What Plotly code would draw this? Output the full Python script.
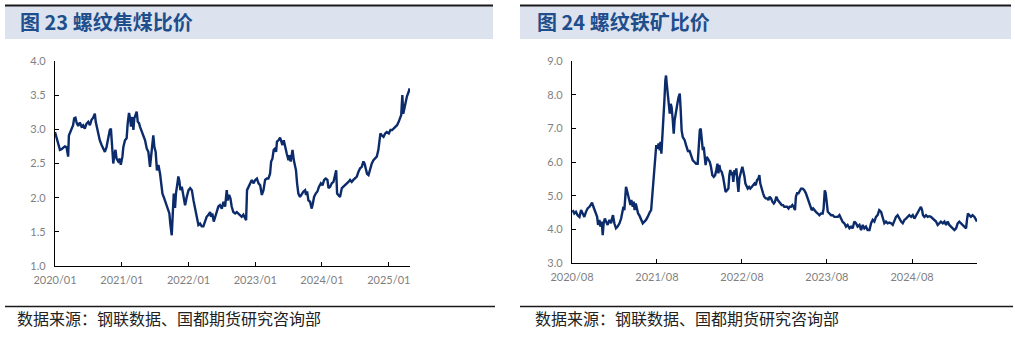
import pandas as pd
import plotly.graph_objects as go

# ---------------- data: left chart (rebar / coking coal price ratio) ----------------
coal_dates = [
    "2020-01-01","2020-01-10","2020-01-19","2020-01-28","2020-02-06","2020-02-15","2020-02-24","2020-03-04","2020-03-13","2020-03-17",
    "2020-03-22","2020-03-31","2020-04-09","2020-04-15","2020-04-22","2020-04-29","2020-05-07","2020-05-16","2020-05-25","2020-06-03",
    "2020-06-12","2020-06-21","2020-07-01","2020-07-10","2020-07-19","2020-07-28","2020-08-06","2020-08-11","2020-08-19","2020-08-24",
    "2020-09-02","2020-09-12","2020-09-21","2020-09-30","2020-10-09","2020-10-18","2020-10-27","2020-11-02","2020-11-05","2020-11-09",
    "2020-11-15","2020-11-20","2020-11-27","2020-12-03","2020-12-12","2020-12-21","2020-12-26",
    "2021-01-04","2021-01-09","2021-01-18","2021-01-27","2021-02-02","2021-02-09","2021-02-15","2021-02-20","2021-02-27","2021-03-05",
    "2021-03-10","2021-03-18","2021-03-23","2021-03-29","2021-04-05","2021-04-10","2021-04-16","2021-04-23","2021-04-29","2021-05-08",
    "2021-05-17","2021-05-26","2021-06-04","2021-06-10","2021-06-17","2021-06-22","2021-06-28","2021-07-05","2021-07-12","2021-07-20",
    "2021-07-29","2021-08-03","2021-08-11","2021-08-18","2021-08-25","2021-08-31","2021-09-09","2021-09-18","2021-09-23","2021-10-01",
    "2021-10-06","2021-10-12","2021-10-19","2021-10-24","2021-11-01","2021-11-06","2021-11-12","2021-11-17","2021-11-25","2021-12-04",
    "2021-12-13","2021-12-22",
    "2022-01-01","2022-01-10","2022-01-19","2022-01-28","2022-02-06","2022-02-15","2022-02-24","2022-03-05","2022-03-14","2022-03-23",
    "2022-04-01","2022-04-10","2022-04-20","2022-04-29","2022-05-04","2022-05-11","2022-05-19","2022-05-26","2022-06-04","2022-06-13",
    "2022-06-22","2022-07-02","2022-07-11","2022-07-20","2022-07-29","2022-08-03","2022-08-11","2022-08-18","2022-08-25","2022-09-03",
    "2022-09-13","2022-09-22","2022-10-01","2022-10-10","2022-10-19","2022-10-28","2022-11-06","2022-11-12","2022-11-17","2022-11-25",
    "2022-12-04","2022-12-13","2022-12-22",
    "2023-01-01","2023-01-10","2023-01-19","2023-01-28","2023-02-06","2023-02-15","2023-02-24","2023-03-05","2023-03-14","2023-03-23",
    "2023-03-29","2023-04-05","2023-04-12","2023-04-20","2023-04-25","2023-04-30","2023-05-08","2023-05-17","2023-05-22","2023-05-30",
    "2023-06-06","2023-06-13","2023-06-22","2023-07-02","2023-07-07","2023-07-14","2023-07-24","2023-07-31","2023-08-07","2023-08-12",
    "2023-08-18","2023-08-25","2023-09-03","2023-09-13","2023-09-22","2023-10-01","2023-10-06","2023-10-12","2023-10-19","2023-10-28",
    "2023-11-06","2023-11-12","2023-11-19","2023-11-28","2023-12-07","2023-12-16","2023-12-26",
    "2024-01-04","2024-01-13","2024-01-22","2024-01-31","2024-02-06","2024-02-15","2024-02-24","2024-03-04","2024-03-13","2024-03-19",
    "2024-03-24","2024-03-31","2024-04-09","2024-04-19","2024-04-28","2024-05-07","2024-05-16","2024-05-25","2024-06-03","2024-06-12",
    "2024-06-21","2024-07-01","2024-07-10","2024-07-19","2024-07-28","2024-08-06","2024-08-15","2024-08-21","2024-08-28","2024-09-04",
    "2024-09-12","2024-09-21","2024-09-30","2024-10-09","2024-10-18","2024-10-27","2024-11-05","2024-11-11","2024-11-16","2024-11-24",
    "2024-12-03","2024-12-12","2024-12-21",
    "2025-01-01","2025-01-10","2025-01-19","2025-01-28","2025-02-06","2025-02-15","2025-02-24","2025-03-05","2025-03-10","2025-03-16",
    "2025-03-21","2025-03-27","2025-04-01","2025-04-10","2025-04-20","2025-04-25",
]
coal_ratio = [
    2.96,2.87,2.77,2.70,2.71,2.73,2.75,2.74,2.60,2.91,
    2.95,2.99,3.06,3.16,3.17,3.09,3.05,3.10,3.04,3.06,
    3.01,3.08,3.11,3.06,3.14,3.17,3.23,3.11,3.01,2.94,
    2.84,2.77,2.71,2.67,2.74,2.87,2.99,3.01,2.84,2.64,
    2.50,2.62,2.70,2.57,2.53,2.57,2.48,
    2.60,2.74,2.84,2.87,3.09,3.24,3.16,3.04,3.18,2.99,
    3.16,3.23,3.26,3.11,3.09,3.04,2.99,2.96,2.89,2.84,
    2.72,2.67,2.45,2.60,2.84,2.91,2.74,2.67,2.40,2.48,
    2.35,2.21,2.06,2.01,1.96,1.89,1.84,1.77,1.62,1.45,
    1.73,2.06,1.85,2.06,2.21,2.31,2.24,2.11,2.16,2.01,
    1.89,2.01,
    2.11,2.14,2.11,1.96,1.82,1.70,1.60,1.62,1.58,1.58,
    1.65,1.72,1.75,1.79,1.72,1.77,1.65,1.70,1.79,1.87,
    1.89,1.84,1.94,1.87,2.11,1.96,2.04,1.99,1.87,1.79,
    1.77,1.79,1.77,1.75,1.72,1.75,1.70,1.67,2.11,2.16,
    2.21,2.26,2.21,
    2.26,2.28,2.21,2.18,2.04,2.11,2.26,2.28,2.28,2.35,
    2.53,2.57,2.70,2.72,2.67,2.82,2.84,2.88,2.82,2.77,
    2.84,2.74,2.65,2.55,2.62,2.53,2.70,2.55,2.48,2.40,
    2.21,2.06,2.01,2.06,2.09,2.11,2.04,2.09,1.96,1.94,
    1.84,1.91,2.01,2.06,2.09,2.16,2.21,
    2.18,2.26,2.28,2.26,2.14,2.16,2.21,2.23,2.33,2.40,
    2.06,2.04,2.01,2.14,2.16,2.18,2.21,2.23,2.26,2.23,
    2.26,2.28,2.31,2.38,2.43,2.45,2.53,2.50,2.40,2.35,
    2.33,2.43,2.50,2.55,2.57,2.60,2.70,2.82,2.94,2.91,
    2.89,2.94,2.96,
    2.94,2.99,2.99,3.01,3.04,3.06,3.11,3.16,3.21,3.50,
    3.23,3.30,3.38,3.48,3.55,3.60,
]
coal_tick_dates = ["2020-01-01","2021-01-01","2022-01-01","2023-01-01","2024-01-01","2025-01-01"]
coal_tick_text = ["2020/01","2021/01","2022/01","2023/01","2024/01","2025/01"]

# ---------------- data: right chart (rebar / iron ore price ratio) ----------------
ore_start = "2020-08-01"
ore_day = [
    3,10,17,24,32,39,46,53,60,67,75,82,86,92,98,103,108,112,118,122,
    128,132,136,141,146,153,161,168,172,176,182,189,196,204,211,215,221,225,229,232,
    236,241,246,251,255,261,265,269,274,278,284,289,297,304,311,318,325,330,335,340,
    344,347,350,354,358,362,368,372,377,380,384,388,392,397,401,404,407,411,415,420,
    424,428,433,437,441,445,450,454,458,463,467,471,476,480,484,490,494,499,504,511,
    519,526,533,540,544,549,553,557,562,566,570,574,579,583,587,592,597,603,609,615,
    620,625,629,633,637,643,649,655,660,666,672,676,680,685,689,693,698,702,706,710,
    715,719,723,728,732,736,741,745,749,755,761,766,772,778,784,789,795,801,805,809,
    815,821,826,832,838,844,849,855,861,867,872,878,884,889,895,901,907,912,918,924,
    930,935,941,947,952,958,962,967,973,978,984,991,998,1005,1013,1018,1024,1030,1036,1041,
    1048,1056,1063,1070,1077,1081,1086,1090,1094,1099,1106,1113,1120,1127,1134,1142,1149,1156,1163,1170,
    1177,1184,1192,1199,1206,1213,1220,1227,1235,1242,1249,1256,1263,1270,1278,1285,1292,1299,1306,1313,
    1320,1328,1335,1342,1349,1356,1363,1371,1378,1385,1392,1399,1406,1414,1421,1428,1435,1442,1449,1457,
    1464,1471,1478,1485,1492,1499,1504,1508,1514,1521,1528,1535,1542,1550,1557,1564,1571,1578,1585,1593,
    1600,1607,1614,1621,1628,1636,1643,1650,1657,1664,1671,1678,1686,1693,1697,1701,1707,1714,1721,1729,
    1736,1740,
]
ore_ratio = [
    4.57,4.47,4.52,4.42,4.37,4.57,4.47,4.37,4.52,4.62,4.67,4.77,4.79,4.67,4.57,4.47,4.37,4.13,4.28,4.08,
    4.23,3.83,4.18,4.32,4.23,4.13,4.28,4.18,4.32,4.42,4.18,4.03,4.08,4.18,4.32,4.52,4.67,4.57,4.97,5.26,
    5.16,5.02,4.87,4.72,4.87,4.67,4.82,4.57,4.77,4.62,4.47,4.42,4.28,4.18,4.23,4.28,4.37,4.47,4.52,4.57,
    4.97,5.11,5.36,5.76,6.15,6.50,6.40,6.55,6.35,6.60,6.25,6.65,7.14,7.83,8.42,8.57,8.33,8.03,7.73,7.44,
    7.73,7.63,7.24,6.84,7.24,7.44,7.73,7.78,7.93,8.03,7.54,6.94,6.74,6.70,6.65,6.50,6.40,6.30,6.35,6.20,
    6.05,6.00,5.95,5.95,6.35,6.94,6.99,6.65,6.35,6.45,6.10,5.91,6.15,6.10,6.05,6.00,5.86,5.61,5.56,5.61,
    5.76,5.95,5.66,5.91,5.76,5.71,5.56,5.31,5.11,5.16,5.21,5.61,5.76,5.61,5.71,5.41,5.76,5.61,5.81,5.46,
    5.11,5.51,5.66,5.76,5.86,5.76,5.56,5.36,5.31,5.21,5.26,5.21,5.26,5.31,5.36,5.31,5.46,5.51,5.61,5.36,
    5.16,5.07,4.97,4.92,4.92,4.87,4.97,4.92,4.82,4.77,4.82,4.97,4.87,4.82,4.77,4.72,4.72,4.67,4.67,4.67,
    4.62,4.67,4.67,4.72,4.67,4.57,4.97,5.07,5.07,5.16,5.21,5.21,5.16,5.07,4.92,4.82,4.67,4.57,4.62,4.57,
    4.52,4.47,4.42,4.47,4.47,4.62,5.16,5.07,4.77,4.52,4.47,4.42,4.42,4.37,4.37,4.37,4.42,4.32,4.22,4.18,
    4.08,4.13,4.03,4.08,4.03,4.23,4.18,4.08,4.13,3.98,4.13,4.03,4.08,3.98,3.98,4.18,4.28,4.23,4.37,4.42,
    4.57,4.52,4.32,4.18,4.23,4.18,4.20,4.18,4.13,4.28,4.37,4.42,4.32,4.23,4.18,4.28,4.32,4.37,4.42,4.37,
    4.42,4.32,4.42,4.52,4.57,4.67,4.57,4.42,4.37,4.42,4.37,4.39,4.37,4.32,4.28,4.23,4.13,4.18,4.23,4.18,
    4.23,4.13,4.23,4.13,4.08,4.03,3.98,4.03,4.18,4.23,4.18,4.13,4.08,4.03,4.28,4.47,4.42,4.37,4.42,4.37,
    4.28,4.23,
]
ore_tick_dates = ["2020-08-01","2021-08-01","2022-08-01","2023-08-01","2024-08-01"]
ore_tick_text = ["2020/08","2021/08","2022/08","2023/08","2024/08"]

titles = ["图 23 螺纹焦煤比价", "图 24 螺纹铁矿比价"]
source_text = "数据来源：钢联数据、国都期货研究咨询部"

# ---------------- figure ----------------
W, H = 1015, 341
def px(x):
    return x / W
def py(y):
    return 1 - y / H

LINE = "#0B2B6B"
TICK_FONT = dict(family="Lato, 'Liberation Sans', sans-serif", size=11, color="#7F7F7F")
CJK = "'Noto Sans CJK SC', sans-serif"

ore_dates = pd.Timestamp(ore_start) + pd.to_timedelta(ore_day, unit="D")

fig = go.Figure()
fig.add_trace(go.Scatter(x=pd.to_datetime(coal_dates), y=coal_ratio, mode="lines",
                         line=dict(color=LINE, width=2.4), xaxis="x", yaxis="y",
                         showlegend=False, hoverinfo="skip"))
fig.add_trace(go.Scatter(x=ore_dates, y=ore_ratio, mode="lines",
                         line=dict(color=LINE, width=2.4), xaxis="x2", yaxis="y2",
                         showlegend=False, hoverinfo="skip"))

axis_common = dict(showline=True, linecolor="#000000", linewidth=1.3, ticks="inside",
                   ticklen=4, tickwidth=1, tickcolor="#000000", showgrid=False,
                   zeroline=False, tickfont=TICK_FONT, fixedrange=True, automargin=False)

fig.update_layout(
    template="none",
    width=W, height=H, autosize=False,
    margin=dict(l=0, r=0, t=0, b=0, pad=0),
    paper_bgcolor="white", plot_bgcolor="white",
    xaxis=dict(domain=[px(55), px(410)], anchor="y", type="date",
               range=["2020-01-01", "2025-04-27"],
               tickvals=coal_tick_dates, ticktext=coal_tick_text, ticklabelstandoff=4,
               **axis_common),
    yaxis=dict(domain=[py(266), py(61)], anchor="x", range=[1, 4], dtick=0.5,
               tick0=1, tickformat=".1f", ticklabelstandoff=6, **axis_common),
    xaxis2=dict(domain=[px(572), px(977)], anchor="y2", type="date",
                range=["2020-08-01", "2025-05-07"],
                tickvals=ore_tick_dates, ticktext=ore_tick_text, ticklabelstandoff=4,
                **axis_common),
    yaxis2=dict(domain=[py(263), py(61)], anchor="x2", range=[3, 9], dtick=1,
                tick0=3, tickformat=".1f", ticklabelstandoff=6, **axis_common),
)

shapes = []
annotations = []
for (x0, x1) in [(5, 493), (520, 1011)]:
    shapes.append(dict(type="rect", xref="paper", yref="paper",
                       x0=px(x0), x1=px(x1), y0=py(39), y1=py(5.5),
                       fillcolor="#DCE3EF", line=dict(width=0), layer="below"))
    shapes.append(dict(type="line", xref="paper", yref="paper",
                       x0=px(x0), x1=px(x1), y0=py(5.5), y1=py(5.5),
                       line=dict(color="#1A1A1A", width=2)))
    shapes.append(dict(type="line", xref="paper", yref="paper",
                       x0=px(x0), x1=px(x1 + 2), y0=py(306.5), y1=py(306.5),
                       line=dict(color="#1A1A1A", width=1.5)))

for i, (tx, fx) in enumerate([(18, 15), (535, 533)]):
    annotations.append(dict(text="<b>" + titles[i] + "</b>", xref="paper", yref="paper",
                            x=px(tx), y=py(22), xanchor="left", yanchor="middle",
                            showarrow=False,
                            font=dict(family=CJK, size=20, color="#1F4E8C")))
    annotations.append(dict(text=source_text, xref="paper", yref="paper",
                            x=px(fx), y=py(318), xanchor="left", yanchor="middle",
                            showarrow=False,
                            font=dict(family=CJK, size=16, color="#222222")))

fig.update_layout(shapes=shapes, annotations=annotations)

fig.write_html("out.html")
